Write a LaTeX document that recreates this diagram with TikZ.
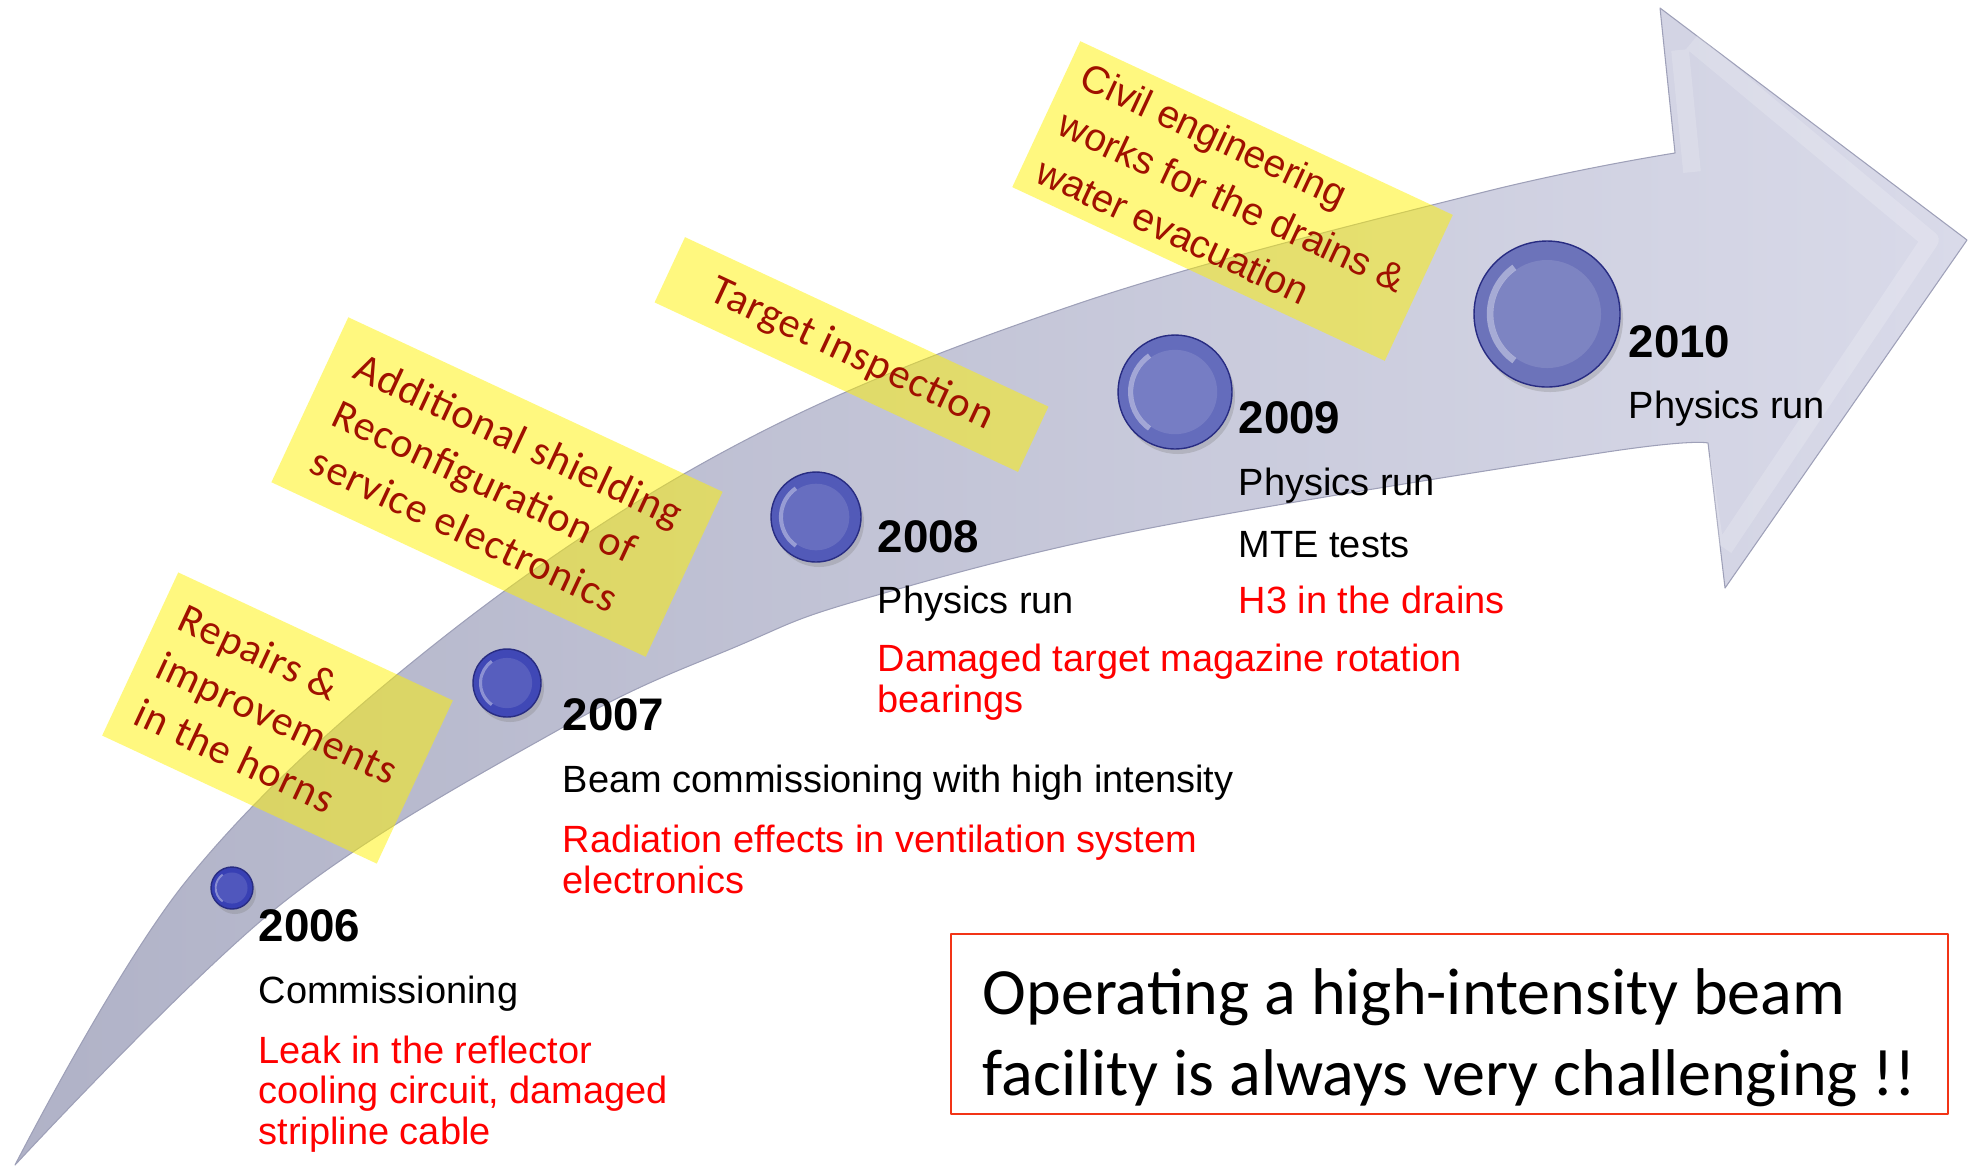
\documentclass[tikz,border=0pt]{standalone}
\usepackage{fontspec}
\setmainfont{Liberation Sans}
\newfontfamily\notefont[LetterSpace=2.5]{Carlito}
\newfontfamily\boxfont{Carlito}
\usetikzlibrary{shadows}
\definecolor{bandL}{RGB}{176,178,199}
\definecolor{bandR}{RGB}{217,218,233}
\definecolor{bandrim}{RGB}{158,160,184}
\definecolor{notered}{RGB}{160,16,0}
\definecolor{boxred}{RGB}{242,52,22}
\definecolor{beadrim}{RGB}{40,44,130}
\definecolor{beadA}{RGB}{56,64,180}
\definecolor{beadB}{RGB}{64,72,182}
\definecolor{beadC}{RGB}{82,90,184}
\definecolor{beadD}{RGB}{100,108,188}
\definecolor{beadE}{RGB}{108,115,186}
\begin{document}
\begin{tikzpicture}[x=0.1mm, y=-0.1mm, line join=round,
	year/.style={anchor=base west, inner sep=0, font=\fontsize{13}{15}\selectfont\bfseries},
	item/.style={anchor=base west, inner sep=0, align=left, font=\fontsize{10.8}{11.4}\selectfont},
	issue/.style={item, text=red},
	note/.style={rotate=-25, fill=yellow, fill opacity=.5, text opacity=1, text=notered, align=left, inner sep=0, font=\notefont\fontsize{12}{14.8}\selectfont},
	bead/.style={circle, inner sep=0, draw=beadrim, line width=.4pt, drop shadow={opacity=.3, shadow xshift=.3mm, shadow yshift=-.5mm}}]
	\useasboundingbox (0,0) rectangle (1971,1167);
	\shade[left color=bandL, right color=bandR, draw=bandrim, line width=.3pt]
		plot[smooth, tension=.6] coordinates {(15,1165) (187,880) (440,640) (740,443) (1080,303) (1480,193) (1675,153)}
		-- (1660,8) -- (1967,240) -- (1725,588) -- (1708,443)
		-- plot[smooth, tension=.6] coordinates {(1708,443) (1600,453) (1140,530) (860,600) (740,645) (567,725) (280,905) (15,1165)} -- cycle;
	\draw[white, opacity=.18, line width=5pt] (1680,50) -- (1692,172) (1702,458) -- (1714,540) (1692,42) -- (1930,240) -- (1724,548);
	\foreach \yr/\cx/\cy/\r/\c in {06/232/888/21/beadA, 07/507/683/34/beadB, 08/816/517/45/beadC, 09/1175/392/57/beadD, 10/1547/314/73/beadE}{
		\node[bead, fill=\c, minimum size=2*\r*0.1mm] (b\yr) at (\cx,\cy) {};
		\fill[white, opacity=.12] (\cx,\cy) circle[radius=.74*\r];
		\draw[white, opacity=.4, line width=.09*\r*0.1mm] (\cx,\cy) ++(125:.78*\r) arc (125:235:.78*\r);
	}
	\node[note, minimum width=30.3mm, minimum height=18mm] (horns) at (277.5,718) {Repairs \&\\improvements\\in the horns};
	\node[note, minimum width=41.3mm, minimum height=18.2mm] (shield) at (497,487) {Additional shielding\\Reconfiguration of\\service electronics};
	\node[note, minimum width=40.1mm, minimum height=7.2mm] (target) at (851.5,354.5) {Target inspection};
	\node[note, font=\fontsize{11.1}{14.8}\selectfont, minimum width=41.1mm, minimum height=16.1mm] (drains) at (1232.5,201) {Civil engineering\\works for the drains \&\\water evacuation};
	\node[year] (y06) at (258,941) {2006};
	\node[item] (d06) at (258,1003) {Commissioning};
	\node[issue] (p06) at (258,1144) {Leak in the reflector\\cooling circuit, damaged\\stripline cable};
	\node[year] (y07) at (562,730) {2007};
	\node[item] (d07) at (562,792) {Beam commissioning with high intensity};
	\node[issue] (p07) at (562,893) {Radiation effects in ventilation system\\electronics};
	\node[year] (y08) at (877,552) {2008};
	\node[item] (d08) at (877,613) {Physics run};
	\node[issue] (p08) at (877,712) {Damaged target magazine rotation\\bearings};
	\node[year] (y09) at (1238,433) {2009};
	\node[item] (d09) at (1238,495) {Physics run};
	\node[item] (m09) at (1238,557) {MTE tests};
	\node[issue] (p09) at (1238,613) {H3 in the drains};
	\node[year] (y10) at (1628,357) {2010};
	\node[item] (d10) at (1628,418) {Physics run};
	\node[draw=boxred, line width=.8pt, minimum width=99.7mm, minimum height=18mm, align=left, inner sep=0, font=\boxfont\fontsize{18.8}{23}\selectfont] (moral) at (1449.5,1024) {\rule{0pt}{21pt}Operating a high-intensity beam\\facility is always very challenging !!};
\end{tikzpicture}
\end{document}
